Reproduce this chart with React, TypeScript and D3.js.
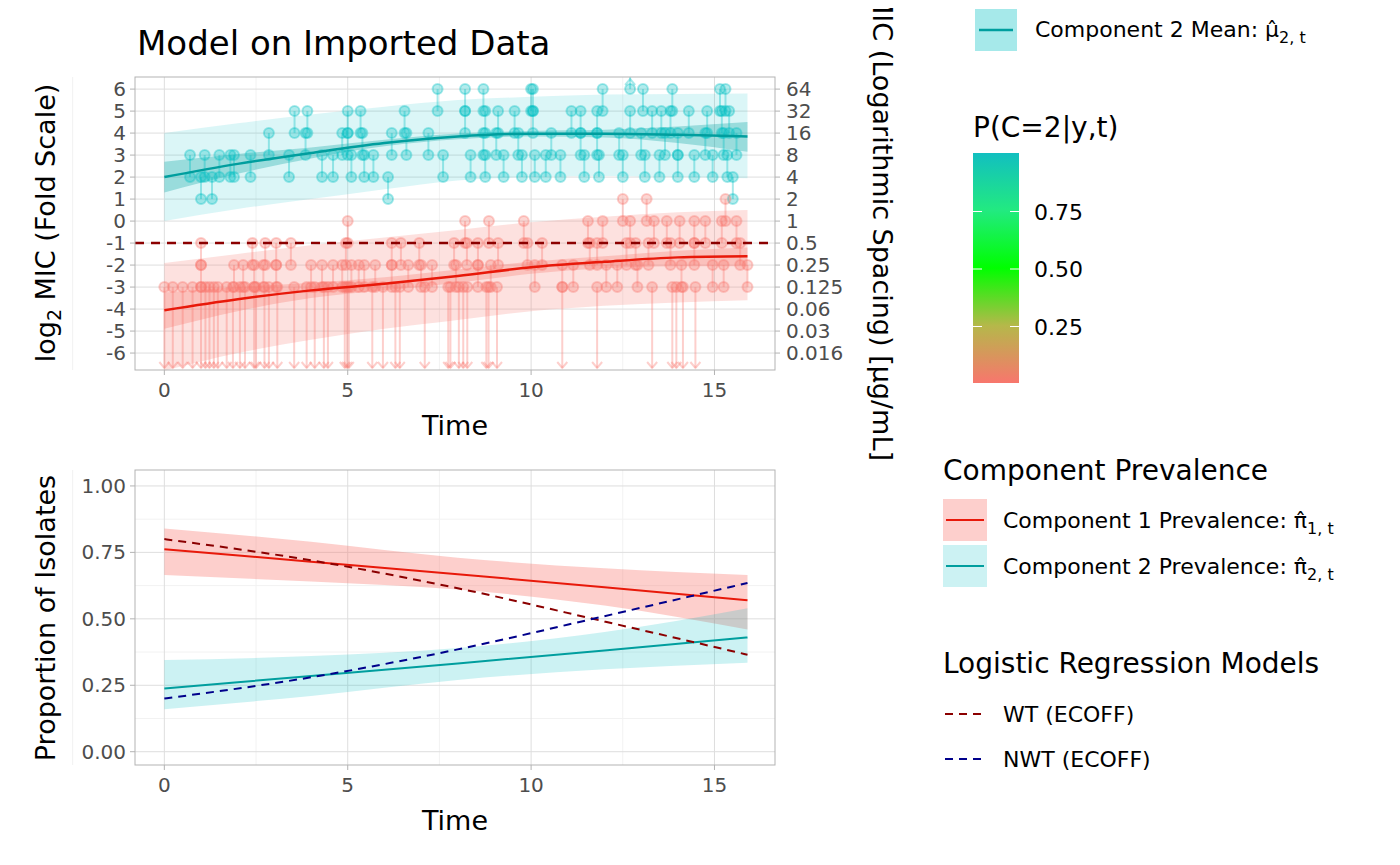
import React from 'react';
import * as d3 from 'd3';

// ---- data ----
const curveT = [0, 2, 4, 6, 8, 10, 12, 14, 15.9];
const comp2Mean = [2.0, 2.6, 3.1, 3.55, 3.85, 3.97, 3.97, 3.92, 3.85];
const comp2InnerLo = [1.3, 2.15, 2.85, 3.4, 3.72, 3.85, 3.8, 3.55, 3.15];
const comp2InnerHi = [2.7, 3.05, 3.35, 3.7, 3.98, 4.1, 4.15, 4.3, 4.5];
const comp2OuterLo = [0.0, 0.55, 1.0, 1.45, 1.85, 2.0, 2.05, 2.0, 1.95];
const comp2OuterHi = [4.0, 4.45, 4.85, 5.2, 5.5, 5.65, 5.75, 5.78, 5.8];
const comp1Mean = [-4.05, -3.55, -3.15, -2.85, -2.5, -2.1, -1.85, -1.65, -1.6];
const comp1InnerLo = [-4.9, -4.1, -3.5, -3.15, -2.8, -2.4, -2.15, -2.05, -2.05];
const comp1InnerHi = [-3.25, -3.0, -2.8, -2.55, -2.2, -1.85, -1.6, -1.35, -1.2];
const comp1OuterLo = [-6.8, -6.0, -5.4, -4.9, -4.5, -4.1, -3.85, -3.7, -3.6];
const comp1OuterHi = [-1.9, -1.5, -1.1, -0.75, -0.4, -0.05, 0.2, 0.4, 0.5];

// interval-censored observations: [time, upper log2 MIC]; lower = upper - 1
const comp2Obs: [number, number][] = [
  [0.7, 3], [1.0, 2], [1.1, 3], [1.3, 2], [1.5, 3], [1.8, 3], [1.9, 3], [2.35, 3], [2.85, 4],
  [3.4, 3], [3.55, 5], [3.85, 4], [3.9, 5], [4.3, 3], [4.6, 3], [4.85, 4], [5.0, 5], [5.0, 4],
  [5.1, 3], [5.35, 5], [5.4, 4], [5.45, 3], [5.7, 3], [6.1, 2], [6.2, 4], [6.55, 5], [6.6, 4],
  [7.2, 4], [7.45, 6], [7.6, 3], [8.2, 6], [8.2, 5], [8.35, 3], [8.7, 6], [8.75, 5], [8.7, 4],
  [8.75, 3], [9.1, 5], [9.05, 4], [9.25, 3], [9.55, 5], [9.65, 4], [9.75, 3], [10.0, 6],
  [10.05, 6], [10.05, 5], [10.1, 3], [10.4, 3], [10.55, 4], [10.8, 3], [11.1, 5], [11.35, 5],
  [11.35, 4], [11.45, 3], [11.8, 5], [11.85, 3], [11.8, 4], [11.95, 6], [12.4, 4], [12.5, 3],
  [12.7, 5], [13.0, 4], [13.05, 6], [13.1, 3], [13.3, 5], [13.5, 3], [13.55, 5], [13.65, 4],
  [13.85, 6], [13.8, 5], [14.0, 4], [14.0, 3], [14.3, 5], [14.45, 3], [14.75, 4], [14.8, 5],
  [14.95, 3], [15.15, 6], [15.3, 6], [15.2, 5], [15.4, 5], [15.35, 3], [15.25, 4], [15.6, 4], [15.5, 2],
];
const comp2RightCens: [number, number][] = [[12.7, 6]];
const comp1Obs: [number, number][] = [
  [1.0, -1], [1.0, -2], [1.9, -2], [2.15, -2], [2.4, -1], [2.45, -2], [2.75, -1], [2.7, -2],
  [3.05, -1], [3.05, -2], [3.45, -1], [4.0, -2], [4.3, -2], [4.6, -2], [4.85, -2], [4.95, -1],
  [5.0, 0], [5.1, -2], [5.3, -2], [5.45, -2], [5.75, -2], [6.2, -1], [6.2, -2], [6.45, -1],
  [6.65, -2], [6.95, -1], [7.0, -2], [7.3, -2], [7.9, -1], [7.95, -2], [8.2, 0], [8.25, -1],
  [8.55, -2], [8.55, -1], [8.85, 0], [8.9, -2], [9.1, -1], [9.8, 0], [9.9, -1], [10.1, -2],
  [10.3, -1], [10.85, -2], [11.15, -2], [11.55, 0], [11.6, -1], [11.8, -1], [11.95, 0],
  [12.05, -2], [12.35, -2], [12.5, 1], [12.6, -1], [12.7, 0], [12.85, -1], [12.9, -2],
  [13.15, 1], [13.2, -1], [13.35, 0], [13.7, 0], [13.8, -1], [14.05, 0], [14.1, -2], [14.45, 0],
  [14.45, -1], [14.75, 0], [14.95, -2], [15.2, 0], [15.3, 1], [15.25, -2], [15.6, 0], [15.7, -1], [15.9, -2],
];
// left-censored observations at <= -3
const comp1LeftCens = [
  0, 0.23, 0.5, 0.77, 1.0, 1.12, 1.23, 1.35, 1.46, 1.7, 1.87, 2.06, 2.2, 2.45, 2.5, 2.73, 2.85,
  3.08, 3.54, 3.88, 4.1, 4.35, 4.46, 4.92, 4.98, 5.03, 5.67, 5.96, 6.3, 6.42, 7.1, 7.74, 7.8,
  8.03, 8.15, 8.26, 8.78, 8.84, 9.07, 10.85, 11.8, 13.3, 13.85, 13.96, 14.14, 14.48,
];
const ecoff = -1;
const yTicks = [-6, -5, -4, -3, -2, -1, 0, 1, 2, 3, 4, 5, 6];
const mgTicks = ['0.016', '0.03', '0.06', '0.125', '0.25', '0.5', '1', '2', '4', '8', '16', '32', '64'];

const prevT = [0, 4, 8, 12, 15.9];
const prev1 = [0.762, 0.715, 0.668, 0.619, 0.57];
const prev1Lo = [0.665, 0.64, 0.61, 0.55, 0.46];
const prev1Hi = [0.84, 0.79, 0.73, 0.69, 0.665];
const prev2 = [0.238, 0.285, 0.332, 0.381, 0.43];
const prev2Lo = [0.16, 0.21, 0.27, 0.31, 0.335];
const prev2Hi = [0.345, 0.36, 0.39, 0.45, 0.54];
const wtT = [0, 4, 8, 12, 15.9];
const wt = [0.8, 0.72, 0.615, 0.49, 0.365];
const nwt = [0.2, 0.28, 0.385, 0.51, 0.635];

const RED = '#F8766D';
const TEAL = '#00BFC4';
const FONT = 'DejaVu Sans, sans-serif';
const TICK = 20;
const AXT = 27;
const LEGT = 28;
const LEG = 22;

const x = d3.scaleLinear().domain([-0.8, 16.65]).range([135, 775]);
const yTop = d3.scaleLinear().domain([-6.77, 6.55]).range([370, 77]);
const yBot = d3.scaleLinear().domain([-0.05, 1.06]).range([765, 470]);

function band(ts: number[], lo: number[], hi: number[], y: d3.ScaleLinear<number, number>) {
  return d3.area<number>().x((_, i) => x(ts[i])).y0((_, i) => y(lo[i])).y1((_, i) => y(hi[i]))
    .curve(d3.curveMonotoneX)(ts) || '';
}
function line(ts: number[], v: number[], y: d3.ScaleLinear<number, number>) {
  return d3.line<number>().x((_, i) => x(ts[i])).y((_, i) => y(v[i])).curve(d3.curveMonotoneX)(ts) || '';
}

function Grid({ y, ticks, minors, top, bottom }: any) {
  return (
    <g>
      <rect x={135} y={top} width={640} height={bottom - top} fill="white" />
      {minors.map((v: number) => <line key={'m' + v} x1={135} x2={775} y1={y(v)} y2={y(v)} stroke="#F2F2F2" />)}
      {[-2.5, 2.5, 7.5, 12.5].map(v => <line key={'xm' + v} x1={x(v)} x2={x(v)} y1={top} y2={bottom} stroke="#F2F2F2" />)}
      {ticks.map((v: number) => <line key={v} x1={135} x2={775} y1={y(v)} y2={y(v)} stroke="#DEDEDE" />)}
      {[0, 5, 10, 15].map(v => <line key={'x' + v} x1={x(v)} x2={x(v)} y1={top} y2={bottom} stroke="#DEDEDE" />)}
    </g>
  );
}

function XAxis({ bottom }: { bottom: number }) {
  return (
    <g fontFamily={FONT}>
      {[0, 5, 10, 15].map(v => (
        <g key={v}>
          <line x1={x(v)} x2={x(v)} y1={bottom} y2={bottom + 5} stroke="#B3B3B3" />
          <text x={x(v)} y={bottom + 27} textAnchor="middle" fontSize={TICK} fill="#4D4D4D">{v}</text>
        </g>
      ))}
      <text x={455} y={bottom + 65} textAnchor="middle" fontSize={AXT}>Time</text>
    </g>
  );
}

export default function App() {
  const yBottom = yTop(-6.77);
  const arrow = (cx: number, cy: number, up: boolean) => {
    const d = up ? -1 : 1;
    return `M${cx - 5},${cy - 6 * d}L${cx},${cy}L${cx + 5},${cy - 6 * d}`;
  };
  return (
    <svg width={1400} height={865} style={{ display: 'block', margin: -8 }} fontFamily={FONT}>
      <rect width={1400} height={865} fill="white" />
      {/* ---- top panel ---- */}
      <text x={137} y={55} fontSize={34}>Model on Imported Data</text>
      <Grid y={yTop} ticks={yTicks} minors={[]} top={77} bottom={370} />
      <g>
        <path d={band(curveT, comp2OuterLo, comp2OuterHi, yTop)} fill={TEAL} fillOpacity={0.14} />
        <path d={band(curveT, comp2InnerLo, comp2InnerHi, yTop)} fill="#009E9E" fillOpacity={0.3} />
        <path d={band(curveT, comp1OuterLo, comp1OuterHi, yTop)} fill={RED} fillOpacity={0.22} />
        <path d={band(curveT, comp1InnerLo, comp1InnerHi, yTop)} fill={RED} fillOpacity={0.3} />
      </g>
      <g strokeWidth={2} strokeOpacity={0.35}>
        {comp2Obs.map(([t, h], i) => (
          <g key={'c2' + i}>
            <line x1={x(t)} x2={x(t)} y1={yTop(h)} y2={yTop(h - 1)} stroke={TEAL} />
            <circle cx={x(t)} cy={yTop(h)} r={5} fill={TEAL} fillOpacity={0.3} stroke={TEAL} />
            <circle cx={x(t)} cy={yTop(h - 1)} r={5} fill={TEAL} fillOpacity={0.3} stroke={TEAL} />
          </g>
        ))}
        {comp2RightCens.map(([t, h], i) => (
          <g key={'rc' + i}>
            <line x1={x(t)} x2={x(t)} y1={yTop(h)} y2={77} stroke={TEAL} />
            <path d={arrow(x(t), 79, true)} fill="none" stroke={TEAL} />
            <circle cx={x(t)} cy={yTop(h)} r={5} fill={TEAL} fillOpacity={0.3} stroke={TEAL} />
          </g>
        ))}
        {comp1LeftCens.map((t, i) => (
          <g key={'lc' + i}>
            <line x1={x(t)} x2={x(t)} y1={yTop(-3)} y2={yBottom - 2} stroke={RED} />
            <path d={arrow(x(t), yBottom - 2, false)} fill="none" stroke={RED} />
            <circle cx={x(t)} cy={yTop(-3)} r={5} fill={RED} fillOpacity={0.3} stroke={RED} />
          </g>
        ))}
        {comp1Obs.map(([t, h], i) => (
          <g key={'c1' + i}>
            <line x1={x(t)} x2={x(t)} y1={yTop(h)} y2={yTop(h - 1)} stroke={RED} />
            <circle cx={x(t)} cy={yTop(h)} r={5} fill={RED} fillOpacity={0.3} stroke={RED} />
            <circle cx={x(t)} cy={yTop(h - 1)} r={5} fill={RED} fillOpacity={0.3} stroke={RED} />
          </g>
        ))}
      </g>
      <path d={line(curveT, comp2Mean, yTop)} fill="none" stroke="#009E9E" strokeWidth={2.5} />
      <path d={line(curveT, comp1Mean, yTop)} fill="none" stroke="#E8190A" strokeWidth={2.5} />
      <line x1={135} x2={775} y1={yTop(ecoff)} y2={yTop(ecoff)} stroke="#8B0000" strokeWidth={2.5} strokeDasharray="9,7" />
      <rect x={135} y={77} width={640} height={293} fill="none" stroke="#B3B3B3" />
      {yTicks.map((v, i) => (
        <g key={v} fontSize={TICK} fill="#4D4D4D">
          <line x1={130} x2={135} y1={yTop(v)} y2={yTop(v)} stroke="#B3B3B3" />
          <text x={126} y={yTop(v) + 7} textAnchor="end">{v}</text>
          <line x1={775} x2={780} y1={yTop(v)} y2={yTop(v)} stroke="#B3B3B3" />
          <text x={786} y={yTop(v) + 7}>{mgTicks[i]}</text>
        </g>
      ))}
      <XAxis bottom={370} />
      <text transform="translate(55,223) rotate(-90)" textAnchor="middle" fontSize={AXT}>
        log<tspan fontSize={19} dy={6}>2</tspan><tspan dy={-6}> MIC (Fold Scale)</tspan>
      </text>
      <text transform="translate(873,226) rotate(90)" textAnchor="middle" fontSize={AXT}>
        MIC (Logarithmic Spacing) [µg/mL]
      </text>

      {/* ---- bottom panel ---- */}
      <Grid y={yBot} ticks={[0, 0.25, 0.5, 0.75, 1]} minors={[0.125, 0.375, 0.625, 0.875]} top={470} bottom={765} />
      <path d={band(prevT, prev1Lo, prev1Hi, yBot)} fill={RED} fillOpacity={0.35} />
      <path d={band(prevT, prev2Lo, prev2Hi, yBot)} fill={TEAL} fillOpacity={0.2} />
      <path d={line(prevT, prev1, yBot)} fill="none" stroke="#E8190A" strokeWidth={2} />
      <path d={line(prevT, prev2, yBot)} fill="none" stroke="#009E9E" strokeWidth={2} />
      <path d={line(wtT, wt, yBot)} fill="none" stroke="#8B0000" strokeWidth={2} strokeDasharray="8,6" />
      <path d={line(wtT, nwt, yBot)} fill="none" stroke="#00008B" strokeWidth={2} strokeDasharray="8,6" />
      <rect x={135} y={470} width={640} height={295} fill="none" stroke="#B3B3B3" />
      {[0, 0.25, 0.5, 0.75, 1].map(v => (
        <g key={v} fontSize={TICK} fill="#4D4D4D">
          <line x1={130} x2={135} y1={yBot(v)} y2={yBot(v)} stroke="#B3B3B3" />
          <text x={126} y={yBot(v) + 7} textAnchor="end">{v.toFixed(2)}</text>
        </g>
      ))}
      <XAxis bottom={765} />
      <text transform="translate(55,618) rotate(-90)" textAnchor="middle" fontSize={AXT}>Proportion of Isolates</text>

      {/* ---- legends ---- */}
      <rect x={975} y={-37} width={42} height={42} fill={RED} fillOpacity={0.55} />
      <rect x={975} y={9} width={42} height={42} fill={TEAL} fillOpacity={0.35} />
      <line x1={979} x2={1013} y1={30} y2={30} stroke="#009E9E" strokeWidth={2.5} />
      <text x={1035} y={37} fontSize={LEG}>Component 2 Mean: {'\u03BC\u0302'}<tspan fontSize={16} dy={6}>2, t</tspan></text>

      <defs>
        <linearGradient id="pc" x1="0" y1="1" x2="0" y2="0">
          <stop offset="0" stopColor={RED} />
          <stop offset="0.25" stopColor="#B5B84A" />
          <stop offset="0.5" stopColor="#00FF00" />
          <stop offset="0.75" stopColor="#22EA80" />
          <stop offset="1" stopColor="#12BFC0" />
        </linearGradient>
      </defs>
      <text x={973} y={137} fontSize={LEGT}>P(C=2|y,t)</text>
      <rect x={973} y={153} width={46} height={230} fill="url(#pc)" />
      {[0.25, 0.5, 0.75].map(v => {
        const yy = 384 - v * 230;
        return (
          <g key={v}>
            <line x1={973} x2={982} y1={yy} y2={yy} stroke="white" />
            <line x1={1010} x2={1019} y1={yy} y2={yy} stroke="white" />
            <text x={1034} y={yy + 8} fontSize={LEG}>{v.toFixed(2)}</text>
          </g>
        );
      })}

      <text x={943} y={480} fontSize={LEGT}>Component Prevalence</text>
      <rect x={943} y={499} width={44} height={42} fill={RED} fillOpacity={0.35} />
      <line x1={946} x2={984} y1={520} y2={520} stroke="#E8190A" strokeWidth={2} />
      <text x={1003} y={528} fontSize={LEG}>Component 1 Prevalence: {'\u03C0\u0302'}<tspan fontSize={16} dy={6}>1, t</tspan></text>
      <rect x={943} y={545} width={44} height={42} fill={TEAL} fillOpacity={0.2} />
      <line x1={946} x2={984} y1={566} y2={566} stroke="#009E9E" strokeWidth={2} />
      <text x={1003} y={574} fontSize={LEG}>Component 2 Prevalence: {'\u03C0\u0302'}<tspan fontSize={16} dy={6}>2, t</tspan></text>

      <text x={943} y={673} fontSize={LEGT}>Logistic Regression Models</text>
      <line x1={945} x2={987} y1={714} y2={714} stroke="#8B0000" strokeWidth={2} strokeDasharray="8,6" />
      <text x={1003} y={722} fontSize={LEG}>WT (ECOFF)</text>
      <line x1={945} x2={987} y1={759} y2={759} stroke="#00008B" strokeWidth={2} strokeDasharray="8,6" />
      <text x={1003} y={767} fontSize={LEG}>NWT (ECOFF)</text>
    </svg>
  );
}
